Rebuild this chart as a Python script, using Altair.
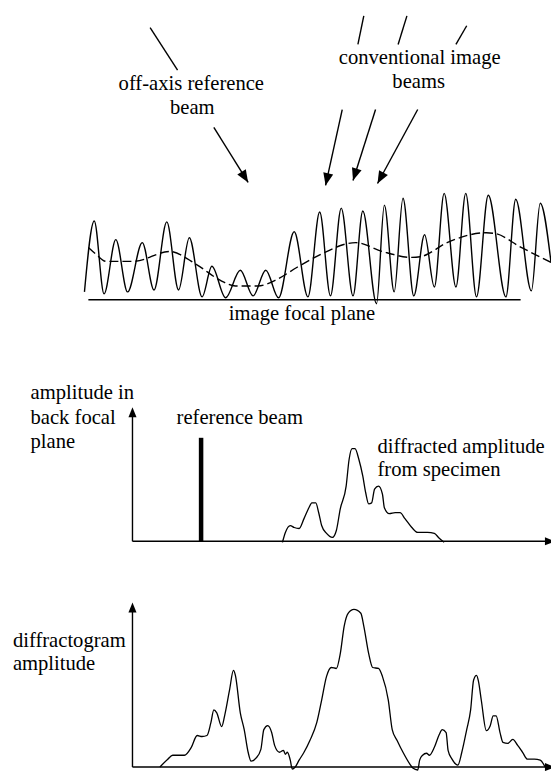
import math
import altair as alt
import pandas as pd

# ---------------- data (reference pixel coordinates) ----------------
# top panel: interference fringes (extrema of the solid wave)
wave_x = [83, 93, 103, 115, 127, 142, 154, 167, 179, 190, 203, 213, 227, 242, 255, 268, 281,
          297, 311, 323, 334, 345, 357, 367, 381, 389, 399, 408, 419, 430, 440, 450, 462, 472,
          483, 495, 513, 523, 539, 548, 559]
wave_y = [293, 221, 295, 240, 293, 243, 291, 222, 291, 238, 298, 267, 299, 271, 297, 271, 299,
          232, 298, 212, 297, 208, 297, 211, 305, 205, 293, 198, 297, 235, 288, 193, 288, 193,
          298, 195, 298, 199, 292, 203, 263]
# dashed envelope (conventional image)
dash_x = [87, 95, 105, 133, 170, 197, 223, 237, 260, 280, 300, 320, 360, 387, 417, 427, 453, 493, 503, 527, 559]
dash_y = [248, 255, 262, 262, 252, 265, 282, 287, 287, 280, 268, 257, 243, 252, 258, 257, 243, 233, 234, 247, 263]

# middle panel: diffracted amplitude from specimen
mid_x = [285, 288, 293, 297, 302, 307, 312, 315, 319, 322, 325, 330, 336, 340, 344, 350, 353, 356,
         359, 363, 367, 370, 373, 376, 379, 383, 387, 389, 394, 400, 405, 410, 417, 423, 433, 440, 445, 450]
mid_y = [547, 537, 530, 532, 533, 523, 512, 507, 507, 517, 530, 538, 542, 535, 513, 490, 463, 452,
         452, 463, 480, 497, 508, 507, 493, 490, 498, 512, 518, 517, 517, 523, 532, 537, 537, 538, 543, 547]

# bottom panel: diffractogram amplitude
bot_x = [160, 168, 173, 180, 185, 192, 198, 203, 208, 212, 215, 218, 223, 226, 231, 235, 237, 242,
         246, 250, 253, 258, 263, 266, 270, 274, 277, 282, 286, 288, 290, 293, 295, 298, 302, 307,
         313, 320, 325, 330, 335, 340, 344, 348, 352, 358, 365, 368, 373, 377, 383, 387, 393, 397,
         402, 408, 415, 418, 423, 425, 428, 432, 435, 440, 445, 448, 452, 454, 458, 464, 468, 473,
         477, 480, 483, 485, 488, 493, 497, 500, 503, 507, 510, 515, 520, 525, 530, 535, 542, 548, 553]
bot_y = [775, 767, 763, 763, 763, 755, 743, 744, 743, 730, 717, 720, 734, 723, 697, 677, 682, 720,
         737, 760, 769, 766, 757, 737, 733, 740, 753, 760, 758, 762, 760, 768, 777, 775, 768, 760,
         748, 730, 707, 683, 674, 675, 660, 632, 619, 615, 619, 632, 660, 674, 675, 683, 707, 737,
         748, 760, 772, 776, 778, 768, 763, 761, 763, 755, 742, 737, 740, 758, 767, 773, 760, 737,
         717, 687, 682, 688, 708, 738, 733, 723, 723, 740, 750, 751, 747, 753, 760, 767, 767, 768, 775]

# straight strokes: x, y, x2, y2
seg_x1 = [150, 368, 412, 473, 87, 132, 132, 132, 132]
seg_y1 = [25, 13, 13, 23, 301, 414, 546, 612, 775]
seg_x2 = [178, 362, 403, 462, 528, 132, 561, 132, 561]
seg_y2 = [68, 42, 42, 42, 301, 546, 546, 775, 775]

# arrows: shaft start and tip
arr_x1 = [215, 346, 380, 423]
arr_y1 = [126, 108, 108, 108]
arr_x2 = [250, 329, 357, 382]
arr_y2 = [182, 185, 180, 183]

# axis arrow tips with direction (degrees clockwise from up)
axhead_x = [132, 132, 563, 563]
axhead_y = [410, 608, 546, 775]
axhead_dir = [0, 0, 90, 90]

# reference beam spike
beam_x = [202]
beam_y1 = [441]
beam_y2 = [546]

# labels
lab_text = ["off-axis reference", "beam", "conventional image", "beams", "image focal plane",
            "amplitude in", "back focal", "plane", "reference beam",
            "diffracted amplitude", "from specimen", "diffractogram", "amplitude"]
lab_x = [192, 193, 425, 424, 305, 28, 28, 28, 177, 382, 382, 10, 10]
lab_y = [88, 113, 62, 86, 322, 402, 427, 451, 427, 456, 480, 653, 677]
lab_align = ["center", "center", "center", "center", "center", "left", "left", "left", "left",
             "left", "left", "left", "left"]

# ---------------- build ----------------
W, H = 543, 763            # whole page (559x779) minus the 8px body margin
X0, X1 = 5, 559            # reference x span shown
Y0, Y1 = 5, 779            # reference y span shown
K = W / (X1 - X0)
FONT = "Liberation Serif, Times New Roman, DejaVu Serif, serif"

XS = alt.Scale(domain=[X0, X1], nice=False, zero=False)
YS = alt.Scale(domain=[Y0, Y1], nice=False, zero=False, reverse=True)


def X(f="x"):
    return alt.X(f"{f}:Q", scale=XS, axis=None)


def Y(f="y"):
    return alt.Y(f"{f}:Q", scale=YS, axis=None)


def curve(xs, ys, **kw):
    df = pd.DataFrame({"x": xs, "y": ys, "o": range(len(xs))})
    return alt.Chart(df).mark_line(color="black", interpolate="monotone", **kw).encode(
        x=X(), y=Y(), order="o:Q")


wave = curve(wave_x, wave_y, strokeWidth=1.4)
dash = curve(dash_x, dash_y, strokeWidth=1.4, strokeDash=[9, 4])
mid = curve(mid_x, mid_y, strokeWidth=1.3)
bot = curve(bot_x, bot_y, strokeWidth=1.3)

segs = alt.Chart(pd.DataFrame({"x": seg_x1, "y": seg_y1, "x2": seg_x2, "y2": seg_y2})).mark_rule(
    color="black", strokeWidth=1.4).encode(x=X(), y=Y(), x2="x2:Q", y2="y2:Q")

shafts = alt.Chart(pd.DataFrame({"x": arr_x1, "y": arr_y1, "x2": arr_x2, "y2": arr_y2})).mark_rule(
    color="black", strokeWidth=1.4).encode(x=X(), y=Y(), x2="x2:Q", y2="y2:Q")

ang = [(math.degrees(math.atan2(x2 - x1, -(y2 - y1))) + 360) % 360
       for x1, y1, x2, y2 in zip(arr_x1, arr_y1, arr_x2, arr_y2)]
HEAD = "M0,0L-0.85,2.1L0.85,2.1Z"
heads = alt.Chart(pd.DataFrame({"x": arr_x2, "y": arr_y2, "a": ang})).mark_point(
    shape=HEAD, filled=True, color="black", size=140, opacity=1).encode(
    x=X(), y=Y(), angle=alt.Angle("a:Q", scale=None))

axheads = alt.Chart(pd.DataFrame({"x": axhead_x, "y": axhead_y, "a": axhead_dir})).mark_point(
    shape=HEAD, filled=True, color="black", size=90, opacity=1).encode(
    x=X(), y=Y(), angle=alt.Angle("a:Q", scale=None))

beam = alt.Chart(pd.DataFrame({"x": beam_x, "y": beam_y1, "y2": beam_y2})).mark_rule(
    color="black", strokeWidth=4.5).encode(x=X(), y=Y(), y2="y2:Q")

labels = alt.Chart(pd.DataFrame({"x": lab_x, "y": lab_y, "t": lab_text, "al": lab_align}))
lab_c = labels.transform_filter(alt.datum.al == "center").mark_text(
    font=FONT, fontSize=round(21 * K, 1), color="black", align="center", baseline="alphabetic").encode(
    x=X(), y=Y(), text="t:N")
lab_l = labels.transform_filter(alt.datum.al == "left").mark_text(
    font=FONT, fontSize=round(21 * K, 1), color="black", align="left", baseline="alphabetic").encode(
    x=X(), y=Y(), text="t:N")

chart = alt.layer(wave, dash, mid, bot, segs, shafts, heads, axheads, beam, lab_c, lab_l).properties(
    width=W, height=H, padding=0, autosize="none", background="white"
).configure_view(strokeWidth=0)

chart.save("out.html", embed_options={"renderer": "svg", "actions": False})
